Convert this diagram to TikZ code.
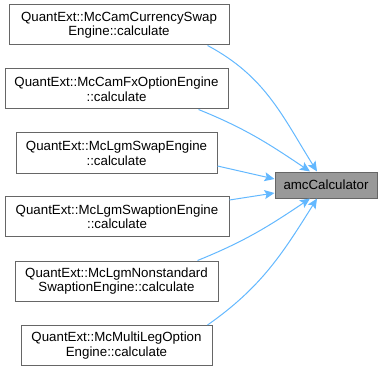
\documentclass[tikz,border=0pt]{standalone}
\usepackage{fontspec}
\setmainfont{Liberation Sans}
\usepackage{tikz}
\usetikzlibrary{arrows.meta, positioning}

\definecolor{edgeblue}{HTML}{63B8FF}
\definecolor{boxline}{HTML}{666666}
\definecolor{hitfill}{HTML}{999999}

\begin{document}
\begin{tikzpicture}[x=1pt, y=-1pt,
    caller/.style =
      {
        draw=boxline, fill=white, line width=1pt, align=center,
        inner sep=0pt, minimum height=40pt,
        font=\fontsize{13.3}{14.5}\selectfont
      },
    callee/.style =
      {
        caller, fill=hitfill, minimum height=26pt
      },
    call/.style =
      {
        draw=edgeblue, line width=1pt,
        -{Stealth[length=10pt, width=9pt, inset=2pt]}
      }]
    \useasboundingbox (0,0) rectangle (387,371);

    \node[callee, minimum width=102pt] (amc) at (326,185) {amcCalculator};

    \node[caller, minimum width=220pt] (camccy) at (119,25)
      {QuantExt::McCamCurrencySwap\\Engine::calculate};
    \node[caller, minimum width=223pt] (camfx) at (116.5,89)
      {QuantExt::McCamFxOptionEngine\\::calculate};
    \node[caller, minimum width=201pt] (lgmswap) at (116.5,153)
      {QuantExt::McLgmSwapEngine\\::calculate};
    \node[caller, minimum width=224pt] (lgmswpt) at (117,216.5)
      {QuantExt::McLgmSwaptionEngine\\::calculate};
    \node[caller, minimum width=203pt] (lgmnonstd) at (116.5,281)
      {QuantExt::McLgmNonstandard\\SwaptionEngine::calculate};
    \node[caller, minimum width=191pt] (multileg) at (116.5,345.5)
      {QuantExt::McMultiLegOption\\Engine::calculate};

    % callers above and below bend into the target box
    \draw[call] ([xshift=-22pt]camccy.south east) to[out=-28, in=122] ([xshift=-9pt]amc.north);
    \draw[call] ([xshift=-30pt]camfx.south east) to[out=-22, in=146] ([xshift=-16pt]amc.north);
    \draw[call] ([yshift=-13pt]lgmswap.east) -- ([yshift=6pt]amc.west);
    \draw[call] ([yshift=16.5pt]lgmswpt.east) -- ([yshift=-8pt]amc.west);
    \draw[call] ([xshift=-21pt]lgmnonstd.north east) to[out=22, in=-146] ([xshift=-16pt]amc.south);
    \draw[call] ([xshift=-5pt]multileg.north east) to[out=35, in=-122] ([xshift=-9pt]amc.south);
\end{tikzpicture}
\end{document}
